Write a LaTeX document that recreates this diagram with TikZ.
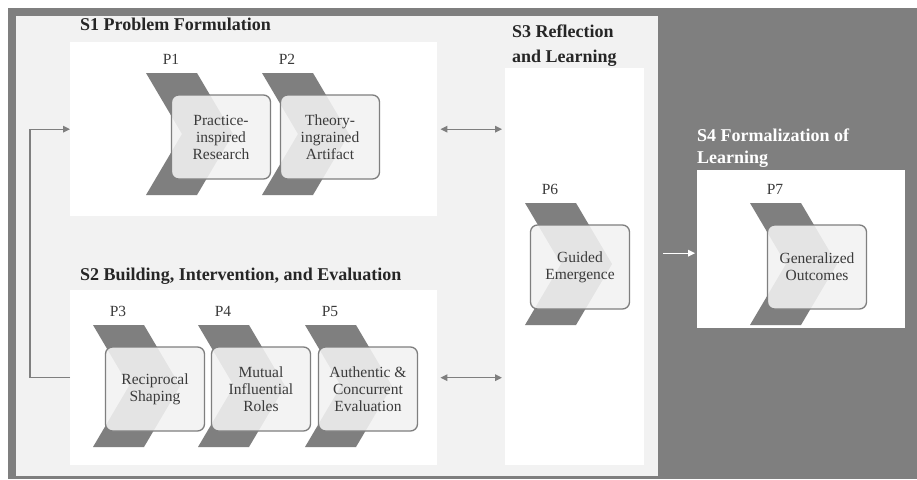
\documentclass[tikz,border=0pt]{standalone}
\usepackage{fontspec}
\setmainfont{Liberation Serif}
\usetikzlibrary{arrows.meta,calc,positioning}
\definecolor{Frame}{HTML}{7F7F7F}
\definecolor{Panel}{HTML}{F2F2F2}
\definecolor{Ink}{HTML}{262626}
\definecolor{Body}{HTML}{3A3A3A}
\tikzset{stage/.style={fill=white,draw=none,inner sep=0pt,anchor=north west},chev/.style={fill=Frame},stepbox/.style={rounded corners=7pt,draw=Frame,line width=1.3pt,fill=Panel,fill opacity=.88,text opacity=1,text=Body,align=center,minimum width=99pt,minimum height=84pt,inner sep=2pt,font=\fontsize{15.5}{17}\selectfont},plabel/.style={text=Body,font=\fontsize{15.5}{18}\selectfont,inner sep=0pt},title/.style={text=Ink,font=\fontsize{18}{25}\selectfont\bfseries,inner sep=0pt,anchor=base west,align=left},link/.style={->,>={Triangle[length=7pt,width=6.5pt]},draw=Frame,line width=1.4pt}}

\begin{document}
\begin{tikzpicture}[x=1pt,y=-1pt]
  \useasboundingbox (0,0) rectangle (917,479);
  \fill[Frame] (8,8) rectangle (917,479);
  \node[stage,fill=Panel,minimum width=642pt,minimum height=460pt] (panel) at (16,16) {};
  \node[stage,minimum width=367pt,minimum height=174pt] (s1) at (70,42) {};
  \node[stage,minimum width=367pt,minimum height=175pt] (s2) at (70,290) {};
  \node[stage,minimum width=139pt,minimum height=397pt] (s3) at (505,68) {};
  \node[stage,minimum width=208pt,minimum height=158pt] (s4) at (697,170) {};
  \node[title] (t1) at (80,30) {S1 Problem Formulation};
  \node[title] (t2) at (80,280) {S2 Building, Intervention, and Evaluation};
  \node[title] (t3) at (512,62) {S3 Reflection\\and Learning};
  \node[title,white,font=\fontsize{18}{22}\selectfont\bfseries] (t4) at (697,163) {S4 Formalization of\\Learning};
  % chevrons with their step boxes
  \foreach \n/\x/\y/\cx/\txt in {1/146/73/221/{Practice-\\inspired\\Research},2/262/73/330/{Theory-\\ingrained\\Artifact},3/93/325/155/{Reciprocal\\Shaping},4/198/325/261/{Mutual\\Influential\\Roles},5/305/325/368/{Authentic \&\\Concurrent\\Evaluation},6/525/203/580/{Guided\\Emergence},7/750/203/817/{Generalized\\Outcomes}}{
    \fill[chev] (\x,\y) -- ++(51,0) -- ++(36,61) -- ++(-36,61) -- ++(-51,0) -- ++(36,-61) -- cycle;
    \node[plabel] (lab\n) at (\x+25,\y-14) {P\n};
    \node[stepbox] (p\n) at (\cx,\y+64) {\txt};
  }
  \draw[link] (s2.west) -- ++(-40,0) |- (s1.west);
  \draw[link,<->,shorten <=3pt,shorten >=3pt] (s1.east) -- (s1.east -| s3.west);
  \draw[link,<->,shorten <=3pt,shorten >=3pt] (s2.east) -- (s2.east -| s3.west);
  \coordinate (s4in) at ([xshift=-2pt,yshift=-4pt]s4.west);
  \draw[link,white] ([xshift=5pt]panel.east |- s4in) -- (s4in);
\end{tikzpicture}
\end{document}
